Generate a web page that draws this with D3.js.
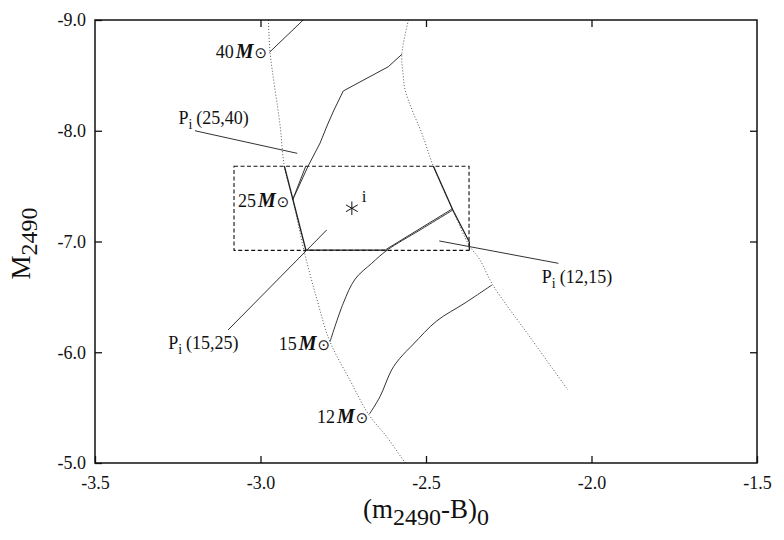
<!DOCTYPE html>
<html>
<head>
<meta charset="utf-8">
<script src="https://cdn.jsdelivr.net/npm/d3@7"></script>
<style>
  html, body { margin: 0; padding: 0; background: #fff; }
  svg { display: block; }
  text { font-family: "Liberation Serif", "Times New Roman", serif; fill: #111; }
</style>
</head>
<body>
<svg id="chart" width="784" height="540"></svg>
<script>
// ---------------- data ----------------
const xDomain = [-3.5, -1.5];
const yDomain = [-9.0, -5.0];
const xTicks = [-3.5, -3.0, -2.5, -2.0, -1.5];
const xTickLabels = ["-3.5", "-3.0", "-2.5", "-2.0", "-1.5"];
const yTicks = [-9.0, -8.0, -7.0, -6.0, -5.0];
const yTickLabels = ["-9.0", "-8.0", "-7.0", "-6.0", "-5.0"];

// dotted curves (isochrones)
const leftIsochrone = [
  [-2.976, -9.000], [-2.971, -8.708], [-2.941, -8.052], [-2.928, -7.682],
  [-2.902, -7.375], [-2.869, -6.923], [-2.829, -6.472], [-2.790, -6.095],
  [-2.730, -5.749], [-2.672, -5.433], [-2.619, -5.238], [-2.563, -5.000]
];
const rightIsochrone = [
  [-2.553, -9.000], [-2.573, -8.690], [-2.569, -8.503], [-2.563, -8.368],
  [-2.542, -8.187], [-2.513, -7.980], [-2.478, -7.682], [-2.419, -7.284],
  [-2.370, -6.968], [-2.337, -6.833], [-2.298, -6.607], [-2.186, -6.138],
  [-2.071, -5.659]
];

// evolutionary tracks (solid)
const track40 = [[-2.973, -8.708], [-2.871, -9.000]];
const track25 = [
  [-2.903, -7.375], [-2.856, -7.682], [-2.820, -7.889], [-2.798, -8.052],
  [-2.778, -8.187], [-2.750, -8.359], [-2.614, -8.578], [-2.573, -8.690]
];
const track25b = [[-2.903, -7.375], [-2.863, -7.682]];
const track15 = [
  [-2.790, -6.095], [-2.750, -6.442], [-2.714, -6.661], [-2.664, -6.803],
  [-2.617, -6.923], [-2.518, -7.104], [-2.419, -7.284]
];
const track15b = [[-2.620, -6.930], [-2.422, -7.292]];
const track12 = [
  [-2.671, -5.442], [-2.639, -5.599], [-2.604, -5.840], [-2.579, -5.945],
  [-2.538, -6.074], [-2.468, -6.282], [-2.382, -6.445], [-2.301, -6.607]
];

// solid boundary segments of the allowed region
const edgeLeft = [[-2.928, -7.682], [-2.863, -6.923]];
const edgeBottom = [[-2.863, -6.923], [-2.617, -6.923]];
const edgeRight = [[-2.478, -7.682], [-2.419, -7.284], [-2.369, -6.995], [-2.369, -6.923]];

// error box and star i
const boxX = [-3.08, -2.37];
const boxY = [-7.68, -6.92];
const starPoint = [-2.724, -7.30];
const starLabel = { text: "i", pos: [-2.694, -7.359] };

// pointer lines for P_i labels
const pointers = [
  [[-3.198, -8.000], [-2.889, -7.796]],
  [[-3.098, -6.201], [-2.800, -7.104]],
  [[-2.460, -7.005], [-2.100, -6.803]]
];
const pLabels = [
  { pair: "(25,40)", pos: [-3.248, -8.061] },
  { pair: "(15,25)", pos: [-3.279, -6.027] },
  { pair: "(12,15)", pos: [-2.150, -6.623] }
];
// mass labels (anchored at their right end)
const massLabels = [
  { mass: "40", pos: [-2.980, -8.657] },
  { mass: "25", pos: [-2.913, -7.312] },
  { mass: "15", pos: [-2.790, -6.020] },
  { mass: "12", pos: [-2.674, -5.364] }
];

// ---------------- drawing ----------------
const svg = d3.select("#chart");
const L = 95, R = 757, T = 20, B = 463;
const x = d3.scaleLinear().domain(xDomain).range([L, R]);
const y = d3.scaleLinear().domain(yDomain).range([T, B]);
const line = d3.line().x(d => x(d[0])).y(d => y(d[1]));
const smooth = d3.line().x(d => x(d[0])).y(d => y(d[1])).curve(d3.curveCatmullRom.alpha(0.5));

const plot = svg.append("g");

// dotted isochrones
[leftIsochrone, rightIsochrone].forEach(c => {
  plot.append("path").attr("d", smooth(c)).attr("fill", "none")
    .attr("stroke", "#555").attr("stroke-width", 1).attr("stroke-dasharray", "1,2");
});

// dashed error box
plot.append("rect")
  .attr("x", x(boxX[0])).attr("y", y(boxY[0]))
  .attr("width", x(boxX[1]) - x(boxX[0])).attr("height", y(boxY[1]) - y(boxY[0]))
  .attr("fill", "none").attr("stroke", "#111").attr("stroke-width", 1.1)
  .attr("stroke-dasharray", "4,2.5");

// tracks
plot.append("path").attr("d", line(track40)).attr("fill", "none").attr("stroke", "#333").attr("stroke-width", 1);
plot.append("path").attr("d", line(track25)).attr("fill", "none").attr("stroke", "#333").attr("stroke-width", 1);
plot.append("path").attr("d", line(track25b)).attr("fill", "none").attr("stroke", "#333").attr("stroke-width", 1);
plot.append("path").attr("d", smooth(track15)).attr("fill", "none").attr("stroke", "#333").attr("stroke-width", 1);
plot.append("path").attr("d", line(track15b)).attr("fill", "none").attr("stroke", "#333").attr("stroke-width", 1);
plot.append("path").attr("d", smooth(track12)).attr("fill", "none").attr("stroke", "#333").attr("stroke-width", 1);

// region edges
[edgeLeft, edgeBottom, edgeRight].forEach(e => {
  plot.append("path").attr("d", line(e)).attr("fill", "none").attr("stroke", "#222").attr("stroke-width", 1.3);
});

// pointer lines
pointers.forEach(p => {
  plot.append("path").attr("d", line(p)).attr("fill", "none").attr("stroke", "#333").attr("stroke-width", 1);
});

// star
plot.append("path")
  .attr("d", d3.symbol().type(d3.symbolAsterisk).size(130)())
  .attr("transform", `translate(${x(starPoint[0])},${y(starPoint[1])})`)
  .attr("fill", "none").attr("stroke", "#111").attr("stroke-width", 1);
plot.append("text").attr("x", x(starLabel.pos[0])).attr("y", y(starLabel.pos[1]))
  .attr("font-size", 17).text(starLabel.text);

// P_i labels
pLabels.forEach(p => {
  const t = plot.append("text").attr("x", x(p.pos[0])).attr("y", y(p.pos[1])).attr("font-size", 18);
  t.append("tspan").text("P");
  t.append("tspan").attr("dy", 5).attr("font-size", 14).text("i");
  t.append("tspan").attr("dy", -5).attr("dx", 4).text(p.pair);
});

// mass labels
massLabels.forEach(m => {
  const t = plot.append("text").attr("x", x(m.pos[0])).attr("y", y(m.pos[1]))
    .attr("text-anchor", "end").attr("font-size", 18);
  t.append("tspan").text(m.mass);
  t.append("tspan").attr("dx", 2).attr("font-weight", "bold").attr("font-style", "italic")
    .attr("font-size", 20).text("M");
  t.append("tspan").attr("dx", 1).attr("font-family", "DejaVu Sans").attr("font-size", 15).text("\u2299");
});

// axes (ticks inward)
const fontAxis = g => g.selectAll("text").attr("font-size", 18)
  .attr("font-family", "'Liberation Serif', 'Times New Roman', serif").attr("fill", "#111");
const bottomAxis = d3.axisBottom(x).tickValues(xTicks)
  .tickFormat((d, i) => xTickLabels[i]).tickSizeInner(-7).tickSizeOuter(0).tickPadding(13);
svg.append("g").attr("transform", `translate(0,${B})`).call(bottomAxis).call(fontAxis)
  .call(g => g.select(".domain").remove());
const leftAxis = d3.axisLeft(y).tickValues(yTicks)
  .tickFormat((d, i) => yTickLabels[i]).tickSizeInner(-7).tickSizeOuter(0).tickPadding(9);
svg.append("g").attr("transform", `translate(${L},0)`).call(leftAxis).call(fontAxis)
  .call(g => g.select(".domain").remove());
svg.append("g").attr("transform", `translate(0,${T})`)
  .call(d3.axisTop(x).tickValues(xTicks.slice(1, -1)).tickFormat("").tickSizeInner(-7).tickSizeOuter(0))
  .call(g => g.select(".domain").remove());
svg.append("g").attr("transform", `translate(${R},0)`)
  .call(d3.axisRight(y).tickValues(yTicks.slice(1, -1)).tickFormat("").tickSizeInner(-7).tickSizeOuter(0))
  .call(g => g.select(".domain").remove());
svg.selectAll(".tick line").attr("stroke", "#111").attr("stroke-width", 1.3);

// frame
svg.append("rect").attr("x", L).attr("y", T).attr("width", R - L).attr("height", B - T)
  .attr("fill", "none").attr("stroke", "#111").attr("stroke-width", 1.5);

// axis titles
const xt = svg.append("text").attr("x", (L + R) / 2).attr("y", 518)
  .attr("text-anchor", "middle").attr("font-size", 27);
xt.append("tspan").text("(m");
xt.append("tspan").attr("dy", 7).attr("font-size", 24).text("2490");
xt.append("tspan").attr("dy", -7).text("-B)");
xt.append("tspan").attr("dy", 7).attr("font-size", 24).text("0");

const yt = svg.append("text").attr("transform", `translate(30,${(T + B) / 2 + 2}) rotate(-90)`)
  .attr("text-anchor", "middle").attr("font-size", 27);
yt.append("tspan").text("M");
yt.append("tspan").attr("dy", 7).attr("font-size", 24).text("2490");
</script>
</body>
</html>
